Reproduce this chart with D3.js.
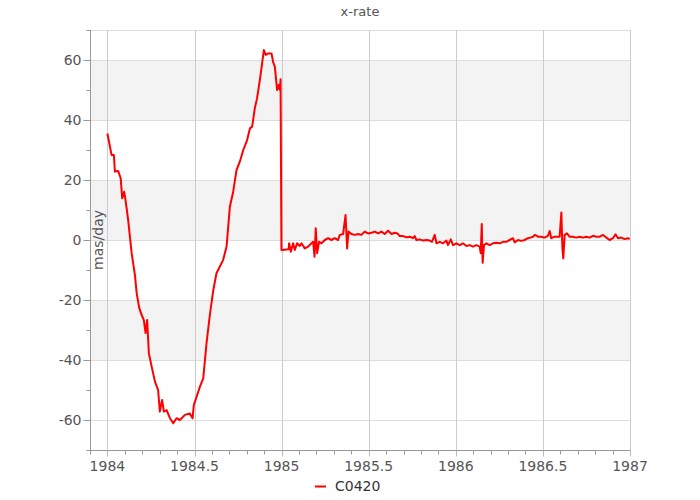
<!DOCTYPE html>
<html lang="en">
<head>
<meta charset="UTF-8">
<title>x-rate</title>
<script src="https://d3js.org/d3.v7.min.js"></script>
<style>
  body { margin: 0; background: #fff; }
  text { font-family: "DejaVu Sans", Verdana, sans-serif; }
</style>
</head>
<body>
<svg id="chart"></svg>
<script>
// series values (decimal year, mas/day)
const years = [
  1984.000, 1984.024, 1984.037, 1984.043, 1984.062, 1984.076, 1984.085, 1984.096, 1984.104, 1984.119,
  1984.139, 1984.158, 1984.168, 1984.181, 1984.190, 1984.209, 1984.219, 1984.228, 1984.238, 1984.254,
  1984.273, 1984.291, 1984.301, 1984.314, 1984.324, 1984.340, 1984.359, 1984.378, 1984.397, 1984.416,
  1984.445, 1984.473, 1984.489, 1984.496, 1984.512, 1984.531, 1984.550, 1984.569, 1984.588, 1984.607,
  1984.626, 1984.645, 1984.664, 1984.684, 1984.703, 1984.722, 1984.741, 1984.760, 1984.780, 1984.802,
  1984.818, 1984.831, 1984.846, 1984.859, 1984.875, 1984.888, 1984.898, 1984.909, 1984.923, 1984.942,
  1984.951, 1984.961, 1984.974, 1984.984, 1984.990, 1984.994, 1984.999,
  1985.005, 1985.040, 1985.043, 1985.053, 1985.066, 1985.076, 1985.089, 1985.104, 1985.114, 1985.133,
  1985.152, 1985.172, 1985.181, 1985.189, 1985.196, 1985.204, 1985.215, 1985.229, 1985.248, 1985.267,
  1985.286, 1985.305, 1985.324, 1985.334, 1985.353, 1985.367, 1985.376, 1985.384, 1985.401, 1985.420,
  1985.439, 1985.458, 1985.477, 1985.496, 1985.516, 1985.535, 1985.554, 1985.573, 1985.592, 1985.611,
  1985.631, 1985.649, 1985.665, 1985.678, 1985.697, 1985.717, 1985.736, 1985.754, 1985.764, 1985.774,
  1985.793, 1985.812, 1985.831, 1985.850, 1985.863, 1985.879, 1985.889, 1985.908, 1985.927, 1985.946,
  1985.955, 1985.971, 1985.984,
  1986.003, 1986.022, 1986.041, 1986.061, 1986.080, 1986.099, 1986.118, 1986.137, 1986.143, 1986.149,
  1986.154, 1986.162, 1986.176, 1986.194, 1986.213, 1986.233, 1986.252, 1986.271, 1986.290, 1986.309,
  1986.328, 1986.338, 1986.357, 1986.376, 1986.395, 1986.414, 1986.428, 1986.443, 1986.453, 1986.472,
  1986.491, 1986.510, 1986.529, 1986.539, 1986.548, 1986.567, 1986.586, 1986.596, 1986.606, 1986.612,
  1986.617, 1986.625, 1986.638, 1986.653, 1986.672, 1986.692, 1986.711, 1986.730, 1986.749, 1986.768,
  1986.787, 1986.807, 1986.826, 1986.845, 1986.864, 1986.883, 1986.902, 1986.917, 1986.931, 1986.950,
  1986.969, 1986.988, 1986.998
];
const rates = [
  35.5, 28.3, 28.3, 22.8, 23.0, 20.6, 13.9, 16.1, 13.3, 6.7,
  -4.4, -11.7, -17.7, -22.2, -24.0, -26.7, -31.0, -26.7, -37.8, -42.2,
  -47.2, -50.0, -57.2, -53.3, -57.2, -56.7, -59.4, -61.1, -59.4, -60.0,
  -58.3, -57.8, -59.4, -55.0, -52.2, -48.9, -46.1, -34.4, -25.0, -17.0,
  -11.1, -8.9, -6.7, -2.2, 11.1, 16.1, 23.3, 26.1, 30.0, 33.3,
  37.2, 37.8, 43.9, 47.2, 53.3, 58.9, 63.3, 61.7, 62.2, 62.2,
  59.4, 57.8, 50.0, 51.7, 50.0, 53.6, -3.3,
  -3.3, -3.1, -1.1, -3.9, -1.1, -3.3, -1.1, -2.0, -1.1, -2.8,
  -2.2, -1.1, -0.6, -5.6, 3.9, -4.4, -0.6, -1.1, 0.0, 0.6,
  0.0, 0.6, 0.0, 1.7, 2.0, 8.3, -2.8, 2.8, 2.0, 1.7,
  2.0, 1.7, 2.8, 2.2, 2.4, 2.8, 2.2, 2.8, 2.0, 3.1,
  2.0, 2.4, 2.2, 1.3, 1.3, 0.9, 1.1, 0.6, 1.3, 0.0,
  0.2, -0.2, 0.0, -0.2, -0.6, 1.7, -1.1, -0.6, -1.1, -0.2,
  -1.7, 0.2, -1.7,
  -1.1, -1.7, -1.1, -2.0, -1.7, -2.2, -1.7, -2.2, -4.4, 5.3,
  -7.6, -1.7, -1.1, -1.7, -1.1, -0.9, -1.1, -0.6, -0.6, 0.0,
  0.6, -0.8, 0.0, -0.3, 0.0, 0.6, 0.8, 1.1, 1.7, 1.1,
  1.1, 0.8, 1.4, 3.0, 0.6, 1.1, 1.1, 1.1, 9.2, -2.8,
  -6.1, 1.7, 2.2, 1.1, 1.1, 0.8, 1.1, 0.8, 1.1, 0.8,
  1.4, 1.1, 1.1, 1.7, 0.8, 0.0, 0.6, 1.9, 0.6, 0.8,
  0.3, 0.6, 0.3
];
const seriesName = "C0420";
const chartTitle = "x-rate";
const yLabel = "mas/day";
const xTicks = [1984, 1984.5, 1985, 1985.5, 1986, 1986.5, 1987];
const yTicks = [-60, -40, -20, 0, 20, 40, 60];
const bands = [[40, 60], [0, 20], [-40, -20]];

const width = 700, height = 500;
const margin = {top: 30, right: 70, bottom: 50, left: 90};

const svg = d3.select("#chart")
    .attr("width", width)
    .attr("height", height);

const x = d3.scaleLinear()
    .domain([1983.9, 1987])
    .range([margin.left, width - margin.right]);
const y = d3.scaleLinear()
    .domain([-70, 70])
    .range([height - margin.bottom, margin.top]);

// alternating bands
svg.selectAll(".band")
    .data(bands)
    .enter().append("rect")
    .attr("x", margin.left)
    .attr("width", x(1987) - margin.left)
    .attr("y", d => y(d[1]))
    .attr("height", d => y(d[0]) - y(d[1]))
    .attr("fill", "#f3f3f3");

// horizontal grid
svg.selectAll(".hgrid")
    .data(yTicks.concat([70]))
    .enter().append("line")
    .attr("x1", margin.left)
    .attr("x2", x(1987))
    .attr("y1", d => Math.round(y(d)) + 0.5)
    .attr("y2", d => Math.round(y(d)) + 0.5)
    .attr("stroke", "#dddddd");

// vertical grid
svg.selectAll(".vgrid")
    .data(xTicks)
    .enter().append("line")
    .attr("x1", d => Math.round(x(d)) + 0.5)
    .attr("x2", d => Math.round(x(d)) + 0.5)
    .attr("y1", margin.top)
    .attr("y2", y(-70))
    .attr("stroke", "#cccccc");

// x axis
const xMinor = d3.range(0, 32).map(i => 1983.9 + i * 0.1);
const xAxisG = svg.append("g")
    .attr("transform", "translate(0," + (Math.round(y(-70)) + 0.5) + ")");
xAxisG.append("line")
    .attr("x1", margin.left).attr("x2", x(1987))
    .attr("stroke", "#999");
xAxisG.selectAll(".minor")
    .data(xMinor)
    .enter().append("line")
    .attr("x1", d => Math.round(x(d)) + 0.5)
    .attr("x2", d => Math.round(x(d)) + 0.5)
    .attr("y1", 0).attr("y2", 4)
    .attr("stroke", "#999");
xAxisG.selectAll(".major")
    .data(xTicks)
    .enter().append("line")
    .attr("x1", d => Math.round(x(d)) + 0.5)
    .attr("x2", d => Math.round(x(d)) + 0.5)
    .attr("y1", 0).attr("y2", 6)
    .attr("stroke", "#bbb");
xAxisG.selectAll(".lbl")
    .data(xTicks)
    .enter().append("text")
    .attr("x", d => x(d))
    .attr("y", 20)
    .attr("text-anchor", "middle")
    .attr("font-size", 14)
    .attr("fill", "#555")
    .text(d => d3.format("")(d));

// y axis
const yMinor = d3.range(-70, 71, 10);
const yAxisG = svg.append("g")
    .attr("transform", "translate(" + (margin.left + 0.5) + ",0)");
yAxisG.append("line")
    .attr("y1", margin.top).attr("y2", y(-70))
    .attr("stroke", "#999");
yAxisG.selectAll(".minor")
    .data(yMinor)
    .enter().append("line")
    .attr("y1", d => Math.round(y(d)) + 0.5)
    .attr("y2", d => Math.round(y(d)) + 0.5)
    .attr("x1", -4).attr("x2", 0)
    .attr("stroke", "#999");
yAxisG.selectAll(".major")
    .data(yTicks)
    .enter().append("line")
    .attr("y1", d => Math.round(y(d)) + 0.5)
    .attr("y2", d => Math.round(y(d)) + 0.5)
    .attr("x1", -7).attr("x2", 0)
    .attr("stroke", "#999");
yAxisG.selectAll(".lbl")
    .data(yTicks)
    .enter().append("text")
    .attr("x", -9)
    .attr("y", d => y(d))
    .attr("dy", "0.36em")
    .attr("text-anchor", "end")
    .attr("font-size", 14)
    .attr("fill", "#555")
    .text(d => d);

// series line
const line = d3.line()
    .x((d, i) => x(years[i]))
    .y(d => y(d));
svg.append("path")
    .datum(rates)
    .attr("d", line)
    .attr("fill", "none")
    .attr("stroke", "#ff0000")
    .attr("stroke-width", 2)
    .attr("stroke-linejoin", "round");

// y label, sits inside the plot
svg.append("text")
    .attr("transform", "translate(103," + y(0) + ") rotate(-90)")
    .attr("text-anchor", "middle")
    .attr("font-size", 14)
    .attr("fill", "#555")
    .text(yLabel);

// title
svg.append("text")
    .attr("x", (margin.left + x(1987)) / 2)
    .attr("y", 16)
    .attr("text-anchor", "middle")
    .attr("font-size", 13)
    .attr("fill", "#555")
    .text(chartTitle);

// legend
svg.append("line")
    .attr("x1", 315).attr("x2", 326)
    .attr("y1", 486.5).attr("y2", 486.5)
    .attr("stroke", "#ff0000")
    .attr("stroke-width", 2);
svg.append("text")
    .attr("x", 335)
    .attr("y", 491)
    .attr("font-size", 14)
    .attr("fill", "#333")
    .text(seriesName);
</script>
</body>
</html>
